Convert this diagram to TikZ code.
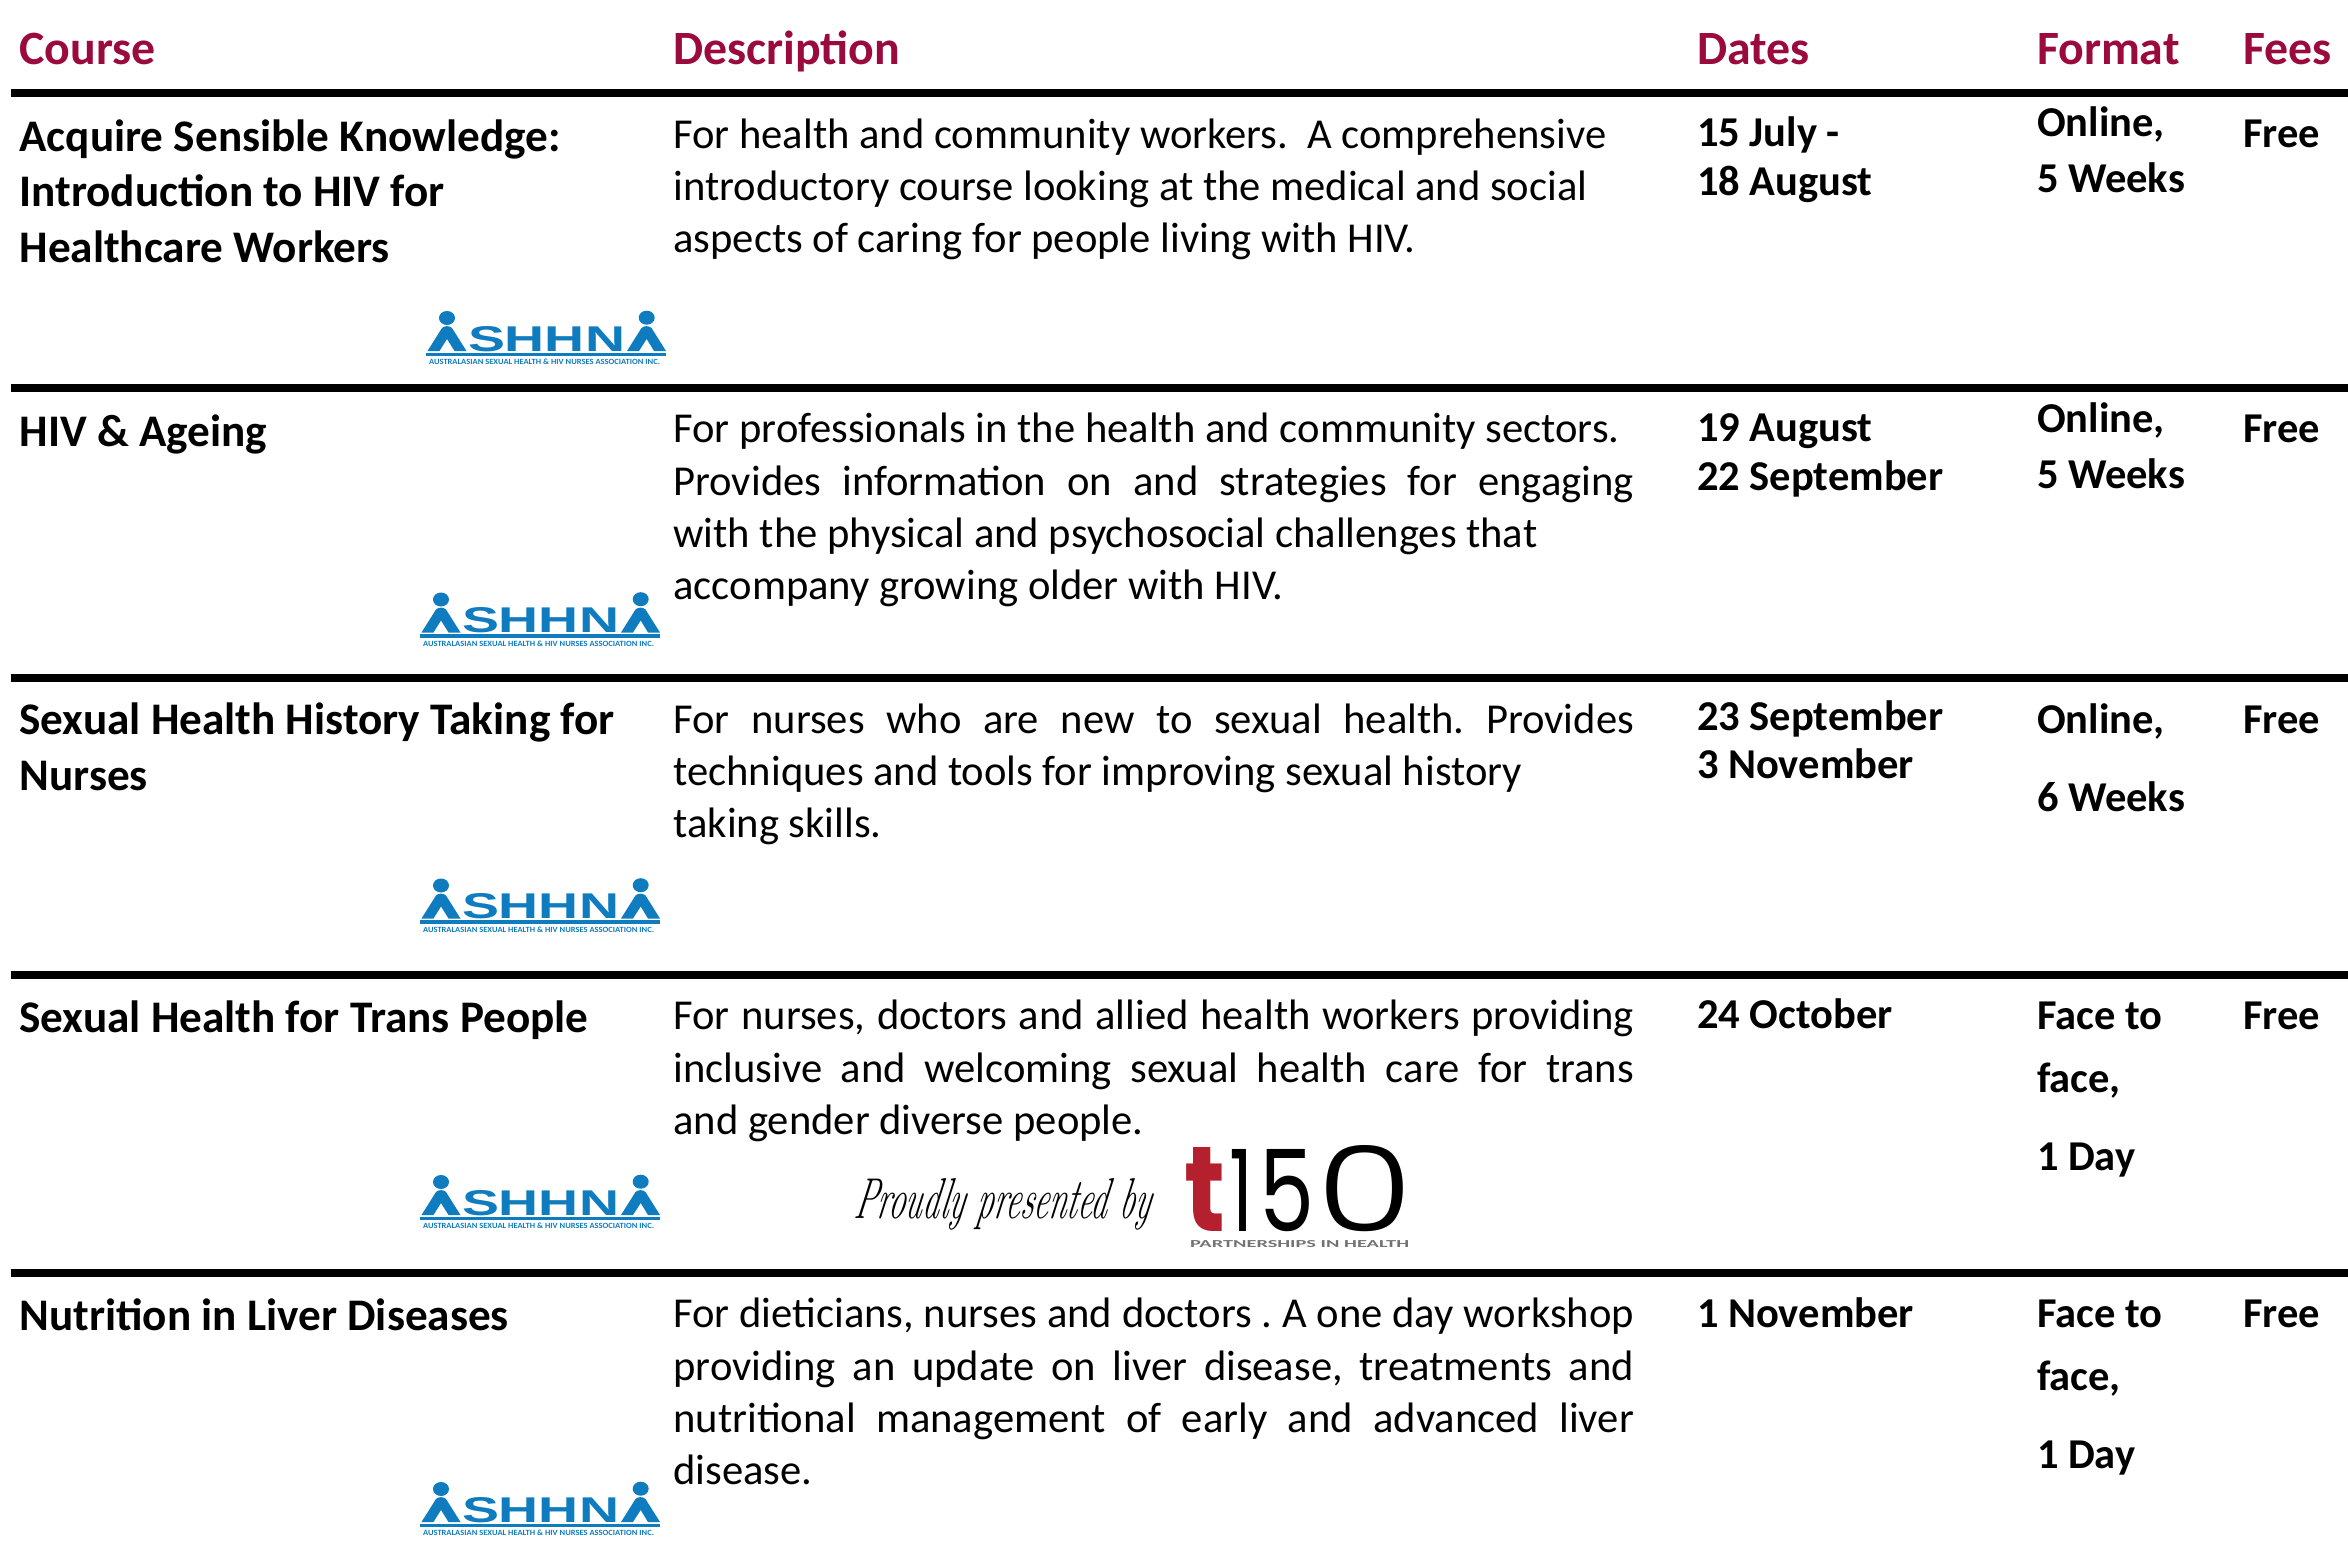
\documentclass[tikz,border=0pt]{standalone}
\usepackage{fontspec}
\usepackage{graphicx}
\setmainfont{Carlito}
\newfontfamily\liberation{Liberation Sans}
\newfontfamily\popfont{Poppins}
\newfontfamily\poplight{Poppins Light}
\newfontfamily\scrfont{Latin Modern Roman}[ItalicFeatures={FakeSlant=0.3}]
\definecolor{headred}{HTML}{9B0A3C}
\definecolor{ashblue}{HTML}{0F7CC0}
\definecolor{tred}{HTML}{B5202E}
\newcommand{\fs}[1]{\fontsize{#1}{#1}\selectfont}
\frenchspacing
\tikzset{
  txt/.style={inner sep=0pt,outer sep=0pt,anchor=base west},
  head/.style={txt,text=headred,font=\fs{47.8}\bfseries},
  crs/.style={txt,font=\fs{45.2}\bfseries},
  dsc/.style={txt,font=\fs{42.6}},
  bld/.style={txt,font=\fs{42.5}\bfseries},
  rulebar/.style={line width=7.5pt,black},
  pics/ashhna/.style={code={
    \fill[ashblue] (47,28) ellipse [x radius=8,y radius=7];
    \fill[ashblue] (246.7,27.7) ellipse [x radius=8,y radius=7];
    \fill[ashblue] (27.5,61) -- (42,38) .. controls (44.5,35.5) and (49.5,35.5) .. (52,38) -- (66.5,61) -- (54.5,61) -- (47,49) -- (39.5,61) -- cycle;
    \fill[ashblue] (227,61) -- (241.5,38) .. controls (244,35.5) and (249,35.5) .. (251.5,38) -- (266,61) -- (254,61) -- (246.7,49) -- (239,61) -- cycle;
    \fill[ashblue] (26,62.5) rectangle (266,66);
    \node[txt,text=ashblue] (-name) at (68,61) {\resizebox{157pt}{25pt}{\liberation\bfseries SHHN}};
    \node[txt,text=ashblue] (-sub) at (29,74.5) {\resizebox{231pt}{5.5pt}{\bfseries AUSTRALASIAN SEXUAL HEALTH \& HIV NURSES ASSOCIATION INC.}};
  }}
}
\newcommand{\Lbl}[5]{\node[#2] (#1) at (#3,#4) {#5};}
\newcommand{\Jst}[3]{\node[dsc] (#1) at (673.5,#2) {\makebox[960.5pt][s]{#3}};}
\begin{document}
\begin{tikzpicture}[x=1pt,y=-1pt]
\useasboundingbox[fill=white] (0,0) rectangle (2348,1557);
% header
\Lbl{hc}{head}{19.5}{64.5}{Course}
\Lbl{hd}{head}{673.5}{64.5}{Description}
\Lbl{hda}{head}{1697}{64.5}{Dates}
\Lbl{hf}{head}{2037}{64.5}{Format}
\Lbl{hfe}{head}{2243}{64.5}{Fees}
% rules
\draw[rulebar] (10.5,93) -- (2348,93);
\draw[rulebar] (10.5,388) -- (2348,388);
\draw[rulebar] (10.5,678) -- (2348,678);
\draw[rulebar] (10.5,975) -- (2348,975);
\draw[rulebar] (10.5,1273) -- (2348,1273);
% row 1
\Lbl{c1a}{crs}{19.5}{152}{Acquire Sensible Knowledge:}
\Lbl{c1b}{crs}{19.5}{207}{Introduction to HIV for}
\Lbl{c1c}{crs}{19.5}{262.5}{Healthcare Workers}
\Lbl{d1a}{dsc}{673.5}{148.5}{For health and community workers.\ \ A comprehensive}
\Lbl{d1b}{dsc}{673.5}{201}{introductory course looking at the medical and social}
\Lbl{d1c}{dsc}{673.5}{253}{aspects of caring for people living with HIV.}
\Lbl{t1a}{bld}{1697}{147}{15 July -}
\Lbl{t1b}{bld}{1697}{196}{18 August}
\Lbl{f1a}{bld}{2037}{137}{Online,}
\Lbl{f1b}{bld}{2037}{193}{5 Weeks}
\Lbl{p1}{bld}{2243}{148}{Free}
\pic (la) at (400,290) {ashhna};
% row 2
\Lbl{c2a}{crs}{19.5}{446}{HIV \& Ageing}
\Lbl{d2a}{dsc}{673.5}{442.5}{For professionals in the health and community sectors.}
\Jst{d2b}{495}{Provides information on and strategies for engaging}
\Lbl{d2c}{dsc}{673.5}{547.5}{with the physical and psychosocial challenges that}
\Lbl{d2d}{dsc}{673.5}{599}{accompany growing older with HIV.}
\Lbl{t2a}{bld}{1697}{441}{19 August}
\Lbl{t2b}{bld}{1697}{490}{22 September}
\Lbl{f2a}{bld}{2037}{432}{Online,}
\Lbl{f2b}{bld}{2037}{488}{5 Weeks}
\Lbl{p2}{bld}{2243}{442.5}{Free}
\pic (lb) at (394,571.5) {ashhna};
% row 3
\Lbl{c3a}{crs}{19.5}{734.5}{Sexual Health History Taking for}
\Lbl{c3b}{crs}{19.5}{790.5}{Nurses}
\Jst{d3a}{733}{For nurses who are new to sexual health. Provides}
\Lbl{d3b}{dsc}{673.5}{785}{techniques and tools for improving sexual history}
\Lbl{d3c}{dsc}{673.5}{837}{taking skills.}
\Lbl{t3a}{bld}{1697}{730}{23 September}
\Lbl{t3b}{bld}{1697}{778}{3 November}
\Lbl{f3a}{bld}{2037}{733}{Online,}
\Lbl{f3b}{bld}{2037}{811}{6 Weeks}
\Lbl{p3}{bld}{2243}{733}{Free}
\pic (lc) at (394,857.5) {ashhna};
% row 4
\Lbl{c4a}{crs}{19.5}{1032.5}{Sexual Health for Trans People}
\Jst{d4a}{1029}{For nurses, doctors and allied health workers providing}
\Jst{d4b}{1082}{inclusive and welcoming sexual health care for trans}
\Lbl{d4c}{dsc}{673.5}{1134.5}{and gender diverse people.}
\Lbl{t4a}{bld}{1697}{1028}{24 October}
\Lbl{f4a}{bld}{2037}{1029}{Face to}
\Lbl{f4b}{bld}{2037}{1092}{face,}
\Lbl{f4c}{bld}{2037}{1170}{1 Day}
\Lbl{p4}{bld}{2243}{1029}{Free}
\pic (ld) at (394,1154) {ashhna};
\node[txt] (pres) at (853,1218) {\resizebox{296pt}{40pt}{\scrfont\itshape\fs{40}Proudly presented by}};
\node[txt,text=tred] (tt) at (1184,1231) {\resizebox{41pt}{84pt}{\popfont\bfseries t}};
\node[txt] (one) at (1229,1231) {\resizebox{24pt}{82pt}{\popfont 1}};
\node[txt] (five) at (1259,1231) {\resizebox{55pt}{82pt}{\popfont 5}};
\node[txt] (zero) at (1316,1231) {\resizebox{97pt}{86pt}{\poplight 0}};
\node[txt,text=black!55] (tsub) at (1190,1247) {\resizebox{219pt}{7pt}{\bfseries PARTNERSHIPS IN HEALTH}};
% row 5
\Lbl{c5a}{crs}{19.5}{1330.5}{Nutrition in Liver Diseases}
\Jst{d5a}{1327}{For dieticians, nurses and doctors . A one day workshop}
\Jst{d5b}{1380}{providing an update on liver disease, treatments and}
\Jst{d5c}{1432}{nutritional management of early and advanced liver}
\Lbl{d5d}{dsc}{673.5}{1484}{disease.}
\Lbl{t5a}{bld}{1697}{1327}{1 November}
\Lbl{f5a}{bld}{2037}{1327}{Face to}
\Lbl{f5b}{bld}{2037}{1390}{face,}
\Lbl{f5c}{bld}{2037}{1468}{1 Day}
\Lbl{p5}{bld}{2243}{1327}{Free}
\pic (le) at (394,1461) {ashhna};
\end{tikzpicture}
\end{document}
